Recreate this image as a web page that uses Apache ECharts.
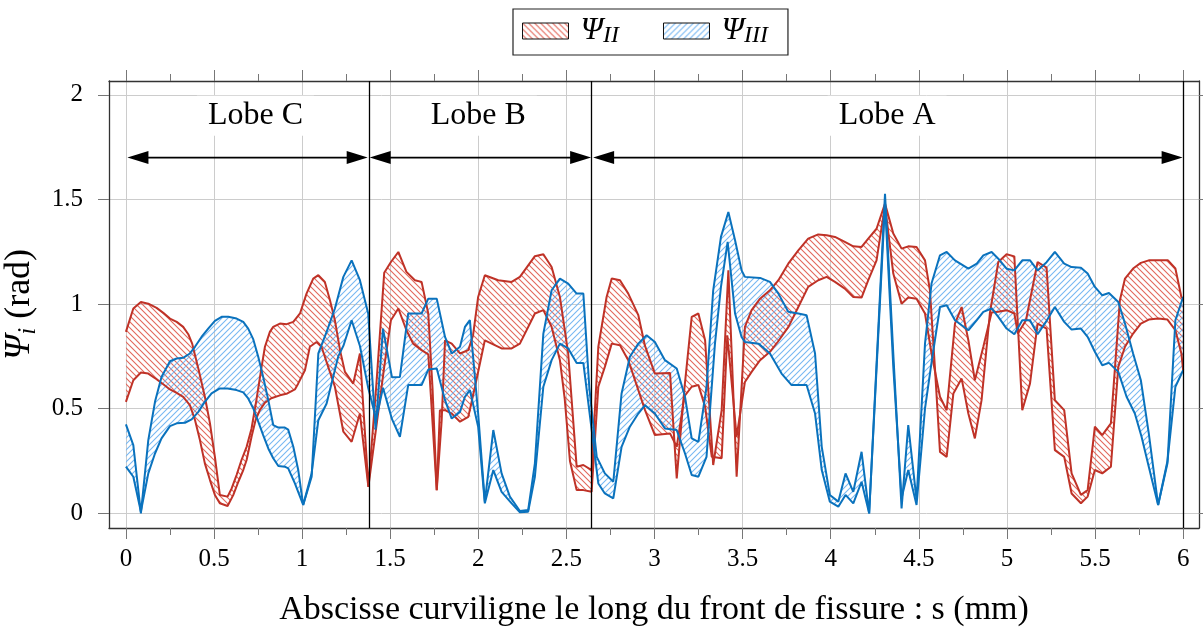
<!DOCTYPE html>
<html><head><meta charset="utf-8">
<script src="https://cdn.jsdelivr.net/npm/echarts@6/dist/echarts.min.js"></script>
<style>html,body{margin:0;padding:0;background:#fff}#c{width:1203px;height:628px}</style>
</head><body><div id="c"></div>
<script>
// ---------- data ----------
const xTicks = [0, 0.5, 1, 1.5, 2, 2.5, 3, 3.5, 4, 4.5, 5, 5.5, 6];
const xMinorTicks = [0.25, 0.75, 1.25, 1.75, 2.25, 2.75, 3.25, 3.75, 4.25, 4.75, 5.25, 5.75];
const yTicks = [0, 0.5, 1, 1.5, 2];
const lobeNames = ['Lobe C', 'Lobe B', 'Lobe A'];
const lobeBounds = [0, 1.375, 2.643, 6.0];
const lobeLabelX = [0.735, 2.0, 4.32];
const arrowLevel = 1.7;
const labelLevel = 1.9;

// Psi_II (red band) boundary lines [s, psi]
const psiII_a = [[0,0.867],[0.042,0.979],[0.085,1.010],[0.127,1.002],[0.174,0.982],[0.212,0.958],[0.250,0.931],[0.288,0.915],[0.325,0.891],[0.354,0.856],[0.376,0.811],[0.411,0.692],[0.448,0.557],[0.477,0.430],[0.505,0.270],[0.533,0.088],[0.577,0.080],[0.600,0.119],[0.628,0.183],[0.656,0.255],[0.685,0.318],[0.713,0.406],[0.742,0.549],[0.770,0.700],[0.789,0.796],[0.817,0.867],[0.836,0.891],[0.874,0.907],[0.912,0.904],[0.950,0.915],[0.988,0.955],[1.025,1.050],[1.063,1.122],[1.092,1.138],[1.129,1.106],[1.158,1.018],[1.186,0.923],[1.215,0.780],[1.243,0.676],[1.290,0.620],[1.328,0.764],[1.376,0.127],[1.420,0.600],[1.466,1.150],[1.504,1.201],[1.546,1.249],[1.592,1.154],[1.640,1.114],[1.678,1.106],[1.716,0.955],[1.740,0.600],[1.764,0.111],[1.792,0.445],[1.811,0.827],[1.849,0.811],[1.896,0.764],[1.943,0.780],[1.970,0.850],[1.999,1.034],[2.037,1.138],[2.113,1.114],[2.189,1.106],[2.236,1.130],[2.321,1.229],[2.369,1.238],[2.416,1.177],[2.463,1.034],[2.510,0.764],[2.558,0.223],[2.596,0.231],[2.643,0.207],[2.681,0.796],[2.728,1.034],[2.757,1.122],[2.804,1.114],[2.851,1.050],[2.908,0.947],[2.946,0.800],[3.002,0.668],[3.088,0.671],[3.126,0.167],[3.170,0.600],[3.211,0.939],[3.249,0.955],[3.287,0.827],[3.333,0.231],[3.381,0.493],[3.419,1.161],[3.466,0.175],[3.513,0.891],[3.551,0.971],[3.599,1.026],[3.655,1.066],[3.703,1.114],[3.759,1.193],[3.816,1.257],[3.872,1.313],[3.929,1.333],[3.977,1.329],[4.024,1.321],[4.080,1.297],[4.128,1.276],[4.175,1.273],[4.213,1.313],[4.260,1.360],[4.308,1.480],[4.355,1.337],[4.402,1.265],[4.440,1.276],[4.487,1.273],[4.535,1.209],[4.563,1.066],[4.591,0.700],[4.620,0.294],[4.658,0.270],[4.696,0.573],[4.743,0.644],[4.781,0.477],[4.818,0.358],[4.856,0.541],[4.903,0.955],[4.951,1.201],[4.998,1.238],[5.042,1.228],[5.087,0.493],[5.131,0.621],[5.174,0.907],[5.225,0.883],[5.272,0.302],[5.325,0.270],[5.367,0.095],[5.420,0.048],[5.458,0.080],[5.499,0.207],[5.541,0.191],[5.590,0.223],[5.632,0.700],[5.670,0.796],[5.716,0.859],[5.760,0.907],[5.805,0.926],[5.858,0.931],[5.911,0.926],[5.956,0.875],[5.990,0.764],[6.0,0.684]];
const psiII_b = [[0,0.533],[0.042,0.636],[0.085,0.673],[0.127,0.668],[0.174,0.641],[0.212,0.617],[0.250,0.592],[0.288,0.576],[0.325,0.557],[0.363,0.517],[0.392,0.446],[0.420,0.350],[0.448,0.239],[0.477,0.159],[0.505,0.088],[0.533,0.048],[0.577,0.035],[0.609,0.087],[0.638,0.151],[0.666,0.207],[0.685,0.255],[0.713,0.366],[0.736,0.446],[0.760,0.493],[0.789,0.529],[0.825,0.550],[0.874,0.564],[0.916,0.573],[0.959,0.592],[0.978,0.621],[1.016,0.684],[1.044,0.796],[1.082,0.819],[1.110,0.796],[1.148,0.700],[1.186,0.605],[1.234,0.390],[1.281,0.342],[1.328,0.477],[1.376,0.127],[1.466,0.700],[1.504,0.923],[1.546,0.979],[1.592,0.875],[1.630,0.811],[1.678,0.780],[1.716,0.760],[1.764,0.111],[1.782,0.493],[1.811,0.493],[1.849,0.477],[1.896,0.438],[1.943,0.461],[1.952,0.453],[1.981,0.605],[2.037,0.827],[2.132,0.788],[2.189,0.788],[2.236,0.811],[2.321,0.955],[2.369,0.971],[2.416,0.891],[2.463,0.732],[2.490,0.550],[2.520,0.250],[2.558,0.111],[2.596,0.111],[2.643,0.103],[2.681,0.605],[2.718,0.700],[2.757,0.811],[2.804,0.803],[2.851,0.732],[2.908,0.589],[2.946,0.493],[3.002,0.374],[3.088,0.382],[3.126,0.318],[3.170,0.560],[3.211,0.605],[3.249,0.613],[3.287,0.509],[3.325,0.270],[3.381,0.263],[3.413,0.851],[3.466,0.366],[3.513,0.628],[3.551,0.676],[3.599,0.732],[3.655,0.772],[3.700,0.820],[3.760,0.891],[3.816,0.986],[3.872,1.082],[3.929,1.114],[3.977,1.130],[4.024,1.106],[4.080,1.074],[4.128,1.034],[4.175,1.031],[4.213,1.114],[4.260,1.209],[4.308,1.472],[4.355,1.146],[4.402,1.002],[4.440,1.031],[4.487,1.026],[4.535,0.955],[4.572,0.764],[4.620,0.557],[4.658,0.493],[4.705,0.907],[4.743,0.986],[4.781,0.827],[4.818,0.636],[4.866,0.796],[4.913,0.960],[4.951,0.963],[4.998,0.971],[5.042,0.955],[5.062,0.859],[5.108,0.923],[5.174,1.201],[5.225,1.174],[5.272,0.541],[5.325,0.493],[5.367,0.191],[5.420,0.088],[5.458,0.111],[5.499,0.414],[5.541,0.374],[5.590,0.430],[5.641,1.018],[5.670,1.122],[5.716,1.170],[5.760,1.197],[5.805,1.209],[5.914,1.209],[5.956,1.170],[5.990,1.034],[6.0,1.026]];

// Psi_III (blue band) boundary lines [s, psi]
const psiIII_a = [[0,0.425],[0.042,0.326],[0.085,0.0],[0.127,0.350],[0.165,0.533],[0.202,0.652],[0.250,0.727],[0.288,0.740],[0.325,0.743],[0.363,0.764],[0.392,0.796],[0.429,0.843],[0.467,0.883],[0.505,0.920],[0.543,0.939],[0.581,0.939],[0.628,0.931],[0.666,0.915],[0.694,0.883],[0.723,0.831],[0.751,0.748],[0.779,0.652],[0.808,0.541],[0.836,0.422],[0.865,0.410],[0.902,0.410],[0.921,0.400],[0.950,0.318],[0.978,0.207],[1.006,0.040],[1.054,0.175],[1.092,0.764],[1.139,0.867],[1.186,0.979],[1.234,1.130],[1.281,1.209],[1.328,1.114],[1.375,0.955],[1.417,0.400],[1.459,0.883],[1.510,0.650],[1.555,0.652],[1.602,0.955],[1.678,0.955],[1.716,1.026],[1.764,1.026],[1.811,0.843],[1.849,0.764],[1.896,0.796],[1.924,0.891],[1.952,0.923],[1.999,0.477],[2.037,0.056],[2.085,0.398],[2.132,0.191],[2.179,0.080],[2.236,0.011],[2.283,0.016],[2.321,0.239],[2.369,0.859],[2.416,1.066],[2.463,1.122],[2.510,1.098],[2.558,1.050],[2.596,1.050],[2.630,0.600],[2.672,0.270],[2.718,0.191],[2.766,0.151],[2.813,0.573],[2.860,0.748],[2.908,0.811],[2.955,0.851],[3.002,0.819],[3.059,0.732],[3.126,0.692],[3.173,0.557],[3.211,0.358],[3.249,0.342],[3.295,0.605],[3.333,1.066],[3.377,1.321],[3.419,1.440],[3.457,1.305],[3.494,1.161],[3.513,1.130],[3.599,1.125],[3.655,1.106],[3.703,1.050],[3.759,0.963],[3.816,0.955],[3.863,0.947],[3.911,0.764],[3.949,0.318],[3.995,0.088],[4.043,0.056],[4.084,0.191],[4.128,0.103],[4.175,0.294],[4.218,0.0],[4.308,1.527],[4.355,0.764],[4.402,0.024],[4.440,0.422],[4.487,0.064],[4.535,0.811],[4.572,1.098],[4.620,1.233],[4.658,1.249],[4.705,1.209],[4.781,1.169],[4.829,1.193],[4.866,1.233],[4.913,1.249],[4.951,1.217],[4.998,1.169],[5.042,1.161],[5.087,1.209],[5.131,1.209],[5.174,1.161],[5.225,1.200],[5.272,1.249],[5.325,1.193],[5.367,1.177],[5.420,1.174],[5.458,1.146],[5.499,1.082],[5.541,1.042],[5.579,1.053],[5.632,1.010],[5.670,0.907],[5.716,0.764],[5.760,0.636],[5.805,0.382],[5.858,0.040],[5.911,0.239],[5.956,0.923],[6.0,1.034]];
const psiIII_b = [[0,0.223],[0.042,0.175],[0.085,0.008],[0.127,0.191],[0.165,0.286],[0.202,0.358],[0.250,0.417],[0.288,0.430],[0.335,0.433],[0.373,0.449],[0.411,0.485],[0.448,0.533],[0.486,0.573],[0.533,0.597],[0.577,0.597],[0.628,0.589],[0.666,0.578],[0.694,0.549],[0.723,0.501],[0.751,0.438],[0.779,0.374],[0.808,0.310],[0.836,0.263],[0.865,0.226],[0.902,0.223],[0.921,0.215],[0.959,0.143],[1.006,0.040],[1.054,0.191],[1.092,0.445],[1.139,0.525],[1.167,0.620],[1.205,0.750],[1.234,0.800],[1.281,0.923],[1.328,0.800],[1.375,0.600],[1.420,0.450],[1.459,0.600],[1.510,0.450],[1.555,0.366],[1.602,0.613],[1.678,0.613],[1.716,0.687],[1.764,0.692],[1.811,0.541],[1.849,0.453],[1.896,0.485],[1.924,0.557],[1.952,0.589],[1.999,0.414],[2.037,0.048],[2.085,0.207],[2.132,0.103],[2.189,0.048],[2.236,0.005],[2.283,0.008],[2.321,0.175],[2.369,0.605],[2.416,0.732],[2.463,0.811],[2.510,0.788],[2.558,0.719],[2.596,0.719],[2.681,0.143],[2.718,0.095],[2.766,0.072],[2.813,0.318],[2.860,0.414],[2.908,0.477],[2.946,0.517],[3.002,0.477],[3.059,0.406],[3.126,0.398],[3.173,0.286],[3.211,0.183],[3.249,0.175],[3.295,0.270],[3.343,0.811],[3.377,1.082],[3.415,1.297],[3.457,0.955],[3.494,0.843],[3.513,0.819],[3.590,0.811],[3.655,0.764],[3.721,0.668],[3.778,0.613],[3.863,0.613],[3.911,0.477],[3.949,0.207],[3.995,0.056],[4.043,0.032],[4.084,0.088],[4.128,0.048],[4.175,0.151],[4.218,0.0],[4.308,1.480],[4.355,0.700],[4.402,0.072],[4.440,0.207],[4.487,0.040],[4.535,0.500],[4.572,0.720],[4.620,0.986],[4.658,0.994],[4.705,0.923],[4.781,0.875],[4.829,0.923],[4.866,0.963],[4.913,0.979],[4.951,0.939],[4.998,0.883],[5.042,0.856],[5.087,0.923],[5.131,0.923],[5.174,0.856],[5.225,0.920],[5.272,0.986],[5.325,0.915],[5.367,0.878],[5.420,0.883],[5.458,0.843],[5.499,0.772],[5.541,0.708],[5.579,0.719],[5.632,0.676],[5.679,0.557],[5.726,0.477],[5.764,0.366],[5.805,0.223],[5.858,0.040],[5.911,0.250],[5.956,0.605],[6.0,0.684]];

// ---------- styles ----------
const FONT = '"Liberation Serif", "Times New Roman", serif';
const RED = '#bf3227';
const BLUE = '#0a72bd';
const RED_HATCH = '#e2685c';
const BLUE_HATCH = '#78b8f2';
const X_MIN = -0.096, X_MAX = 6.09, Y_MIN = -0.07, Y_MAX = 2.066;

function hatch(color, forward, n) {
  const c = document.createElement('canvas');
  c.width = n; c.height = n;
  const g = c.getContext('2d');
  g.clearRect(0, 0, n, n);
  g.strokeStyle = color; g.lineWidth = 1.1;
  g.beginPath();
  if (forward) { // "/"
    g.moveTo(-1, n + 1); g.lineTo(n + 1, -1);
    g.moveTo(-1, 1); g.lineTo(1, -1);
    g.moveTo(n - 1, n + 1); g.lineTo(n + 1, n - 1);
  } else {       // "\"
    g.moveTo(-1, -1); g.lineTo(n + 1, n + 1);
    g.moveTo(-1, n - 1); g.lineTo(1, n + 1);
    g.moveTo(n - 1, -1); g.lineTo(n + 1, 1);
  }
  g.stroke();
  return c;
}
const redTile = hatch(RED_HATCH, false, 6);
const blueTile = hatch(BLUE_HATCH, true, 6);
function pat(tile) { return { image: tile, repeat: 'repeat' }; }

function band(name, a, b, tile) {
  return {
    type: 'custom', name: name, coordinateSystem: 'cartesian2d',
    data: [[a[0][0], a[0][1]]], silent: true, clip: true, z: 2,
    itemStyle: { color: pat(tile), borderColor: '#111', borderWidth: 1 },
    renderItem: function (params, api) {
      const pts = a.map(p => api.coord(p)).concat(b.slice().reverse().map(p => api.coord(p)));
      return { type: 'polygon', shape: { points: pts }, style: { fill: pat(tile), stroke: 'none', lineWidth: 0 } };
    }
  };
}
function line(name, d, color) {
  return { type: 'line', name: name, data: d, symbol: 'none', showSymbol: false, silent: true, z: 4,
    lineStyle: { color: color, width: 2 }, itemStyle: { color: color } };
}

const legendRich = {
  p: { fontFamily: FONT, fontStyle: 'italic', fontSize: 32, color: '#000', lineHeight: 34, padding: [0, 0, 0, 7] },
  s: { fontFamily: FONT, fontStyle: 'italic', fontSize: 24, color: '#000', lineHeight: 22, verticalAlign: 'bottom' }
};
const yNameRich = {
  p: { fontFamily: FONT, fontStyle: 'italic', fontSize: 36, color: '#000', lineHeight: 42 },
  s: { fontFamily: FONT, fontStyle: 'italic', fontSize: 25, color: '#000', lineHeight: 27, verticalAlign: 'bottom' },
  r: { fontFamily: FONT, fontSize: 36, color: '#000', lineHeight: 42 }
};

const chart = echarts.init(document.getElementById('c'), null, { renderer: 'canvas' });
const axisLineStyle = { color: '#333', width: 1.3 };
const tickStyle = { color: '#777', width: 1 };

const option = {
  animation: false,
  backgroundColor: '#fff',
  grid: { left: 109, top: 81, right: 4, bottom: 100, outerBoundsMode: 'none', containLabel: false },
  legend: {
    top: 9, left: 513,
    data: [
      { name: 'Ψ_II', itemStyle: { color: pat(redTile), borderColor: '#111', borderWidth: 1 } },
      { name: 'Ψ_III', itemStyle: { color: pat(blueTile), borderColor: '#111', borderWidth: 1 } }
    ],
    icon: 'rect', itemWidth: 46, itemHeight: 16, itemGap: 44,
    borderColor: '#222', borderWidth: 1.2, padding: [6, 20, 7, 9],
    formatter: function (n) { return n === 'Ψ_II' ? '{p|Ψ}{s|II}' : '{p|Ψ}{s|III}'; },
    textStyle: { rich: legendRich }
  },
  xAxis: [
    { type: 'value', position: 'bottom', min: X_MIN, max: X_MAX,
      axisLine: { show: true, lineStyle: axisLineStyle, onZero: false },
      axisTick: { show: true, inside: false, length: 11, lineStyle: tickStyle, customValues: xTicks },
      axisLabel: { show: true, customValues: xTicks, fontFamily: FONT, fontSize: 25, color: '#000', margin: 19,
        formatter: v => String(v) },
      splitLine: { show: true, lineStyle: { color: '#cccccc', width: 1 } },
      name: 'Abscisse curviligne le long du front de fissure : s (mm)', nameLocation: 'middle', nameGap: 65,
      nameTextStyle: { fontFamily: FONT, fontSize: 34, color: '#000' } },
    { type: 'value', position: 'bottom', min: X_MIN, max: X_MAX,
      axisLine: { show: false, onZero: false }, axisLabel: { show: false }, splitLine: { show: false },
      axisTick: { show: true, length: 7, lineStyle: tickStyle, customValues: xMinorTicks } },
    { type: 'value', position: 'top', min: X_MIN, max: X_MAX,
      axisLine: { show: true, lineStyle: axisLineStyle, onZero: false }, axisLabel: { show: false }, splitLine: { show: false },
      axisTick: { show: true, length: 11, lineStyle: tickStyle, customValues: xTicks } },
    { type: 'value', position: 'top', min: X_MIN, max: X_MAX,
      axisLine: { show: false, onZero: false }, axisLabel: { show: false }, splitLine: { show: false },
      axisTick: { show: true, length: 7, lineStyle: tickStyle, customValues: xMinorTicks } }
  ],
  yAxis: [
    { type: 'value', position: 'left', min: Y_MIN, max: Y_MAX,
      axisLine: { show: true, lineStyle: axisLineStyle, onZero: false },
      axisTick: { show: true, length: 11, lineStyle: tickStyle, customValues: yTicks },
      axisLabel: { show: true, customValues: yTicks, fontFamily: FONT, fontSize: 25, color: '#000', margin: 26,
        formatter: v => String(v) },
      splitLine: { show: true, lineStyle: { color: '#cccccc', width: 1 } },
      name: '{p|Ψ}{s|i}{r| (rad)}', nameLocation: 'middle', nameGap: 67, nameRotate: 90,
      nameTextStyle: { rich: yNameRich } },
    { type: 'value', position: 'right', min: Y_MIN, max: Y_MAX,
      axisLine: { show: true, lineStyle: axisLineStyle, onZero: false }, axisLabel: { show: false }, splitLine: { show: false },
      axisTick: { show: true, length: 11, lineStyle: tickStyle, customValues: yTicks } }
  ],
  series: [
    band('Ψ_II', psiII_a, psiII_b, redTile),
    band('Ψ_III', psiIII_a, psiIII_b, blueTile),
    line('II-a', psiII_a, RED), line('II-b', psiII_b, RED),
    line('III-a', psiIII_a, BLUE), line('III-b', psiIII_b, BLUE),
    {
      type: 'custom', name: 'lobes', coordinateSystem: 'cartesian2d', silent: true, z: 6, clip: false,
      data: lobeNames.map((n, i) => [lobeLabelX[i], labelLevel]),
      renderItem: function (params, api) {
        const i = params.dataIndex;
        const p0 = api.coord([lobeBounds[i], arrowLevel]);
        const p1 = api.coord([lobeBounds[i + 1], arrowLevel]);
        const pl = api.coord([lobeLabelX[i], labelLevel]);
        const L = 21, W = 6.5, off = 1.5;
        const a0 = p0[0] + off, a1 = p1[0] - 0.5;
        return { type: 'group', children: [
          { type: 'line', shape: { x1: a0 + L - 2, y1: p0[1], x2: a1 - L + 2, y2: p1[1] }, style: { stroke: '#000', lineWidth: 1.6 } },
          { type: 'polygon', shape: { points: [[a0, p0[1]], [a0 + L, p0[1] - W], [a0 + L, p0[1] + W]] }, style: { fill: '#000' } },
          { type: 'polygon', shape: { points: [[a1, p1[1]], [a1 - L, p1[1] - W], [a1 - L, p1[1] + W]] }, style: { fill: '#000' } },
          { type: 'text', x: pl[0], y: pl[1], style: { text: lobeNames[i], fill: '#000', fontFamily: FONT, fontSize: 32,
            align: 'center', verticalAlign: 'middle', backgroundColor: '#fff', padding: [5, 11, 3, 11] } }
        ] };
      },
      markLine: { silent: true, symbol: 'none', label: { show: false }, animation: false,
        lineStyle: { color: '#000', width: 1.3, type: 'solid' },
        data: lobeBounds.slice(1).map(v => ({ xAxis: v })) }
    }
  ]
};
chart.setOption(option);
</script>
</body></html>
